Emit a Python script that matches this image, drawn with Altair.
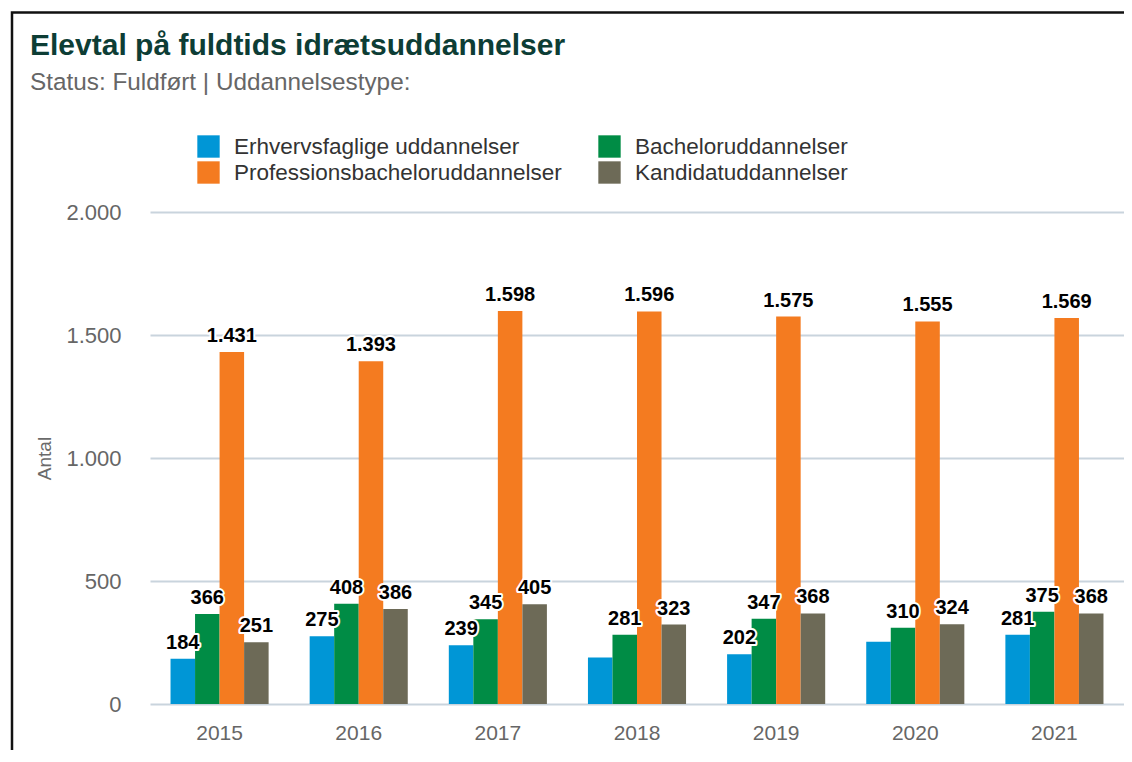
import altair as alt
import pandas as pd

years = ["2015", "2016", "2017", "2018", "2019", "2020", "2021"]
series = [
    "Erhvervsfaglige uddannelser",
    "Bacheloruddannelser",
    "Professionsbacheloruddannelser",
    "Kandidatuddannelser",
]
colors = ["#0096d6", "#008c45", "#f47b20", "#6d6a57"]

erhverv = [184, 275, 239, 189, 202, 253, 281]
bachelor = [366, 408, 345, 281, 347, 310, 375]
profbachelor = [1431, 1393, 1598, 1596, 1575, 1555, 1569]
kandidat = [251, 386, 405, 323, 368, 324, 368]

# labels that are not shown in the original (overlapping)
hidden_labels = [("Erhvervsfaglige uddannelser", "2018"), ("Erhvervsfaglige uddannelser", "2020")]

y_ticks = [0, 500, 1000, 1500, 2000]

title_text = "Elevtal på fuldtids idrætsuddannelser"
subtitle_text = "Status: Fuldført | Uddannelsestype:"
y_title = "Antal"

FONT = "Liberation Sans"

rows = []
for s, vals in zip(series, [erhverv, bachelor, profbachelor, kandidat]):
    for yr, v in zip(years, vals):
        rows.append({"aar": yr, "serie": s, "antal": v,
                     "vis": 0 if (s, yr) in hidden_labels else 1})
df = pd.DataFrame(rows)

x_enc = alt.X(
    "aar:N", sort=years,
    scale=alt.Scale(domain=years, paddingInner=0.295, paddingOuter=0.1475),
    axis=alt.Axis(title=None, labelFontSize=21, labelColor="#666666", labelPadding=18,
                  ticks=False, domain=False, grid=False, labelAngle=0, labelFont=FONT),
)
xoff_enc = alt.XOffset("serie:N", sort=series,
                       scale=alt.Scale(domain=series, paddingInner=0, paddingOuter=0))
y_enc = alt.Y(
    "antal:Q",
    scale=alt.Scale(domain=[0, 2000], nice=False),
    axis=alt.Axis(title=y_title, values=y_ticks,
                  labelExpr="replace(format(datum.value, ','), ',', '.')",
                  grid=True, gridColor="#c9d4dd", gridWidth=2, ticks=False, domain=False,
                  labelFontSize=22, labelColor="#666666", labelPadding=29, labelFont=FONT,
                  titleFontSize=19, titleColor="#6a6a6a", titleFontWeight="normal",
                  titleFont=FONT, titlePadding=11),
)

bars = alt.Chart(df).mark_bar().encode(
    x=x_enc, xOffset=xoff_enc, y=y_enc,
    color=alt.Color(
        "serie:N", sort=series,
        scale=alt.Scale(domain=series, range=colors),
        legend=alt.Legend(title=None, orient="none", legendX=47, legendY=-77, columns=2,
                          direction="horizontal",
                          symbolType="square", symbolSize=500, symbolStrokeWidth=0,
                          symbolOpacity=1, labelFontSize=22.5, labelColor="#333333",
                          labelFont=FONT, labelOffset=14, labelLimit=600, columnPadding=36,
                          rowPadding=3),
    ),
)

label_base = alt.Chart(df).transform_filter("datum.vis == 1").transform_calculate(
    lbl="replace(format(datum.antal, ','), ',', '.')"
).encode(
    x=x_enc, xOffset=xoff_enc, y=y_enc,
    text="lbl:N",
)
halo = label_base.mark_text(baseline="alphabetic", dy=-10, fontSize=20, fontWeight="bold",
                            font=FONT, stroke="white", strokeWidth=4, strokeJoin="round",
                            fill="white")
labels = label_base.mark_text(baseline="alphabetic", dy=-10, fontSize=20, fontWeight="bold",
                              font=FONT, fill="#000000")

frame = alt.Chart(pd.DataFrame({"k": [0]})).mark_rect(
    fill="white", fillOpacity=0, stroke="#111111", strokeWidth=2.5
).encode(x=alt.value(-138), x2=alt.value(1400), y=alt.value(-199.5), y2=alt.value(1000))

chart = alt.layer(bars, halo, labels, frame).properties(
    width=974, height=492,
    autosize=alt.AutoSizeParams(type="none"),
    padding={"left": 142, "top": 204, "right": 0, "bottom": 46},
    title=alt.TitleParams(text=title_text, subtitle=subtitle_text, anchor="start",
                          frame="group", dx=-120, offset=-84, font=FONT, fontSize=30,
                          fontWeight="bold", color="#0d3d35", subtitleFont=FONT,
                          subtitleFontSize=24.3, subtitleColor="#666666", subtitlePadding=10),
).configure(font=FONT, background="white").configure_view(
    strokeWidth=0, strokeOpacity=0
).configure_axisY(titleFontSize=19, titleColor="#6a6a6a")

chart.save("out.html", embed_options={"renderer": "svg", "actions": False})
